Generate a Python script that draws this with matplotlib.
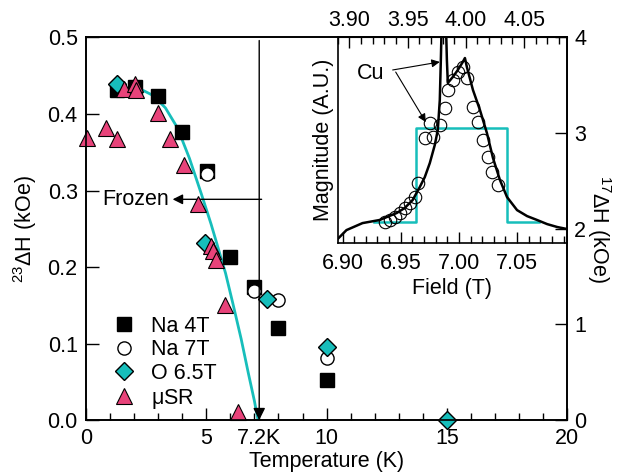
import matplotlib
matplotlib.use("Agg")
import matplotlib.pyplot as plt
from matplotlib.ticker import MultipleLocator, FormatStrFormatter

plt.rcParams['font.family'] = ['Liberation Sans', 'DejaVu Sans']
plt.rcParams['font.size'] = 15.5
plt.rcParams['mathtext.default'] = 'regular'

CYAN = '#17BEBB'
PINK = '#E8437A'

# ---- main panel data (T in K, 23dH in kOe; O data in 17dH kOe on right axis)
na4_T = [1.29, 2.04, 2.99, 3.99, 5.03, 5.99, 6.99, 7.98, 10.0]
na4_dH = [0.432, 0.435, 0.423, 0.376, 0.326, 0.213, 0.174, 0.120, 0.052]

na7_T = [5.03, 6.99, 7.98, 10.0]
na7_dH = [0.322, 0.169, 0.157, 0.081]

o_T = [1.29, 4.95, 7.53, 10.0, 15.0]
o_dH17 = [3.51, 1.85, 1.27, 0.76, 0.0]

musr_T = [0.04, 0.83, 1.29, 1.58, 2.04, 2.08, 2.99, 3.49, 4.07, 4.66,
          5.20, 5.28, 5.40, 5.78, 6.32]
musr_dH = [0.369, 0.382, 0.367, 0.433, 0.439, 0.432, 0.401, 0.367, 0.333, 0.283,
           0.228, 0.221, 0.209, 0.151, 0.010]

fit_T = [2.3, 2.8, 3.3, 3.8, 4.3, 4.8, 5.2, 5.5, 5.8, 6.1, 6.45, 6.75, 7.0, 7.15]
fit_dH = [0.432, 0.424, 0.408, 0.382, 0.342, 0.295, 0.256, 0.224, 0.192, 0.153,
          0.106, 0.061, 0.025, 0.0]

# ---- inset data (field in T, magnitude in arb. units)
line_B = [6.8957, 6.9034, 6.9172, 6.9319, 6.9466, 6.9534, 6.9603, 6.9664, 6.9707,
          6.975, 6.9793, 6.9819, 6.9836, 6.9845, 6.9853, 6.9888, 6.9897, 6.9905,
          6.9948, 6.9991, 7.0034, 7.0052, 7.0069, 7.0121, 7.0181, 7.0241, 7.0293,
          7.0353, 7.0414, 7.05, 7.0586, 7.0672, 7.0759, 7.0845, 7.0931]
line_M = [0.019, 0.063, 0.097, 0.112, 0.146, 0.170, 0.209, 0.272, 0.320,
          0.388, 0.476, 0.549, 0.694, 0.888, 1.08, 1.08, 0.888, 0.777,
          0.806, 0.840, 0.879, 0.898, 0.854, 0.743, 0.646, 0.534, 0.413,
          0.306, 0.223, 0.160, 0.131, 0.112, 0.092, 0.078, 0.068]

circ_B = [6.9362, 6.9405, 6.9448, 6.9491, 6.9534, 6.9578, 6.9621, 6.9647, 6.9707,
          6.9776, 6.975, 6.9836, 6.9879, 6.9905, 6.9948, 6.9991, 7.0034, 7.0069,
          7.0121, 7.0164, 7.0207, 7.025, 7.0284, 7.0336]
circ_M = [0.102, 0.112, 0.126, 0.146, 0.170, 0.194, 0.223, 0.291, 0.510,
          0.515, 0.583, 0.573, 0.655, 0.743, 0.791, 0.830, 0.854, 0.801,
          0.660, 0.587, 0.500, 0.417, 0.345, 0.282]

step_B = [6.9267, 6.9629, 6.9629, 7.0414, 7.0414, 7.069]
step_M = [0.102, 0.102, 0.558, 0.558, 0.102, 0.102]

fig = plt.figure(figsize=(6.28, 4.72), dpi=100)
ax = fig.add_axes([0.137, 0.110, 0.766, 0.8106])
ax_in = fig.add_axes([0.538, 0.485, 0.365, 0.4366])
ax2 = ax.twinx()

ax.set_xlim(0, 20)
ax.set_ylim(0, 0.5)
ax2.set_ylim(0, 4)

ax.plot(fit_T, fit_dH, color=CYAN, lw=2, zorder=2)
ax.plot(na4_T, na4_dH, 's', color='black', ms=10, label='Na 4T', zorder=3)
ax.plot(na7_T, na7_dH, 'o', mfc='white', mec='black', mew=1, ms=9.5, label='Na 7T', zorder=4)
ax.plot(o_T, o_dH17, 'D', mfc=CYAN, mec='black', mew=1, ms=9.5, label='O 6.5T',
        transform=ax2.transData, clip_on=False, zorder=5)
ax.plot(musr_T, musr_dH, '^', mfc=PINK, mec='black', mew=0.8, ms=11,
        label=r'$\mu$SR', clip_on=False, zorder=6)

ax.annotate('', xy=(7.2, 0.0), xytext=(7.2, 0.496),
            arrowprops=dict(arrowstyle='-|>', color='black', lw=1, mutation_scale=18,
                            shrinkA=0, shrinkB=0), zorder=7)
ax.annotate('', xy=(3.6, 0.2885), xytext=(7.3, 0.2885),
            arrowprops=dict(arrowstyle='-|>', color='black', lw=1, mutation_scale=15,
                            shrinkA=0, shrinkB=0))
ax.text(3.45, 0.2885, 'Frozen', ha='right', va='center')

ax.set_xticks([0, 5, 7.2, 10, 15, 20])
ax.set_xticklabels(['0', '5', '7.2K', '10', '15', '20'])
ax.xaxis.set_minor_locator(MultipleLocator(1))
ax.set_yticks([0, 0.1, 0.2, 0.3, 0.4, 0.5])
ax.yaxis.set_major_formatter(FormatStrFormatter('%.1f'))
ax.tick_params(which='major', direction='in', length=9, width=1, top=False, right=False, pad=6)
ax.tick_params(which='minor', direction='in', length=5, width=1, top=False, right=False)
ax2.set_yticks([0, 1, 2, 3, 4])
ax2.tick_params(direction='in', length=9, width=1, pad=5)
for a in (ax, ax2):
    for s in a.spines.values():
        s.set_linewidth(1.2)

ax.set_xlabel('Temperature (K)', labelpad=1)
ax.set_ylabel(r'$^{23}\Delta$H (kOe)', labelpad=6)
ax2.set_ylabel(r'$^{17}\Delta$H (kOe)', rotation=270, labelpad=19)

ax.legend(loc='lower left', bbox_to_anchor=(0.02, -0.02), frameon=False,
          handlelength=1.0, handletextpad=0.75, labelspacing=0.12, borderpad=0.3)

# ---- inset
ax_in.set_facecolor('white')
ax_in.plot(step_B, step_M, color=CYAN, lw=1.8)
ax_in.plot(line_B, line_M, color='black', lw=1.8)
ax_in.plot(circ_B, circ_M, 'o', mfc='none', mec='black', mew=0.8, ms=9)
ax_in.set_xlim(6.896, 7.093)
ax_in.set_ylim(0, 1)
ax_in.set_yticks([])
ax_in.xaxis.set_major_locator(MultipleLocator(0.05))
ax_in.xaxis.set_minor_locator(MultipleLocator(0.01))
ax_in.xaxis.set_major_formatter(FormatStrFormatter('%.2f'))
ax_in.tick_params(axis='x', which='major', direction='in', length=8, width=1, pad=7)
ax_in.tick_params(axis='x', which='minor', direction='in', length=5, width=1)
ax_in.set_xlabel('Field (T)', labelpad=3)
ax_in.set_ylabel('Magnitude (A.U.)', labelpad=3)
for s in ax_in.spines.values():
    s.set_linewidth(1.2)

top = ax_in.secondary_xaxis('top', functions=(lambda x: x - 3.006, lambda x: x + 3.006))
top.xaxis.set_major_locator(MultipleLocator(0.05))
top.xaxis.set_minor_locator(MultipleLocator(0.01))
top.xaxis.set_major_formatter(FormatStrFormatter('%.2f'))
top.tick_params(which='major', direction='in', length=8, width=1, pad=4)
top.tick_params(which='minor', direction='in', length=5, width=1)

ax_in.text(6.9241, 0.825, 'Cu', ha='center', va='center')
ax_in.annotate('', xy=(6.9836, 0.879), xytext=(6.9431, 0.840),
               arrowprops=dict(arrowstyle='-|>', color='black', lw=0.8, mutation_scale=12,
                               shrinkA=0, shrinkB=0))
ax_in.annotate('', xy=(6.9716, 0.587), xytext=(6.9457, 0.830),
               arrowprops=dict(arrowstyle='-|>', color='black', lw=0.8, mutation_scale=12,
                               shrinkA=0, shrinkB=0))

fig.savefig('out.png', dpi=100)
